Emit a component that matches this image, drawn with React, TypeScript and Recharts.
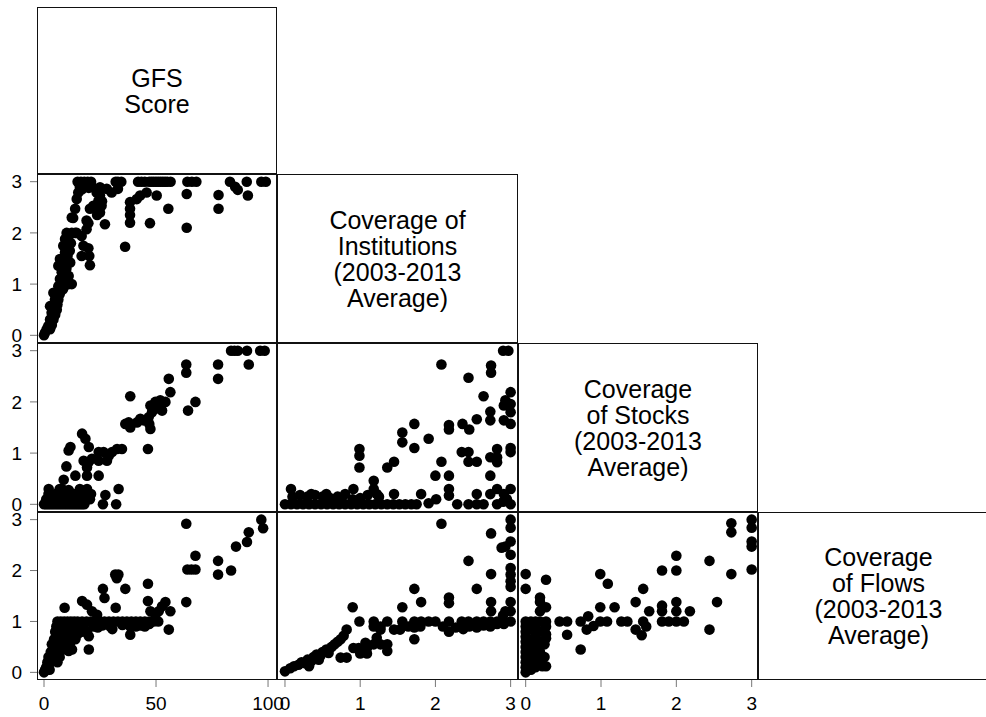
import React from 'react';
import { ScatterChart, Scatter, XAxis, YAxis } from 'recharts';

const FONT = '"Liberation Sans", Arial, Helvetica, sans-serif';

// Diagonal labels (variables)
const variableLabels: string[][] = [
  ['GFS', 'Score'],
  ['Coverage of', 'Institutions', '(2003-2013', 'Average)'],
  ['Coverage', 'of Stocks', '(2003-2013', 'Average)'],
  ['Coverage', 'of Flows', '(2003-2013', 'Average)'],
];

// Tick labels
const gfsTicks = [0, 50, 100];
const coverageTicks = [0, 1, 2, 3];

// Row 2, col 1: GFS score (x) vs Coverage of Institutions (y)
const gfsVsInstitutions: [number, number][] = [
  [15, 3], [16.5, 3], [18, 3], [19.5, 3], [21, 3], [32, 3], [33, 3], [34.5, 3], [42, 3], [43.5, 3], [45, 3], [47, 3],
  [48, 3], [49, 3], [50, 3], [51, 3], [52, 3], [53, 3], [54, 3], [55, 3], [56.5, 3], [64, 3], [66, 3], [68, 3],
  [83, 3], [90.5, 3], [97, 3], [99, 3],
  [16, 2.9], [17, 2.85], [18.5, 2.9], [20, 2.88], [21, 2.92], [15.3, 2.79], [14.6, 2.66], [13.9, 2.47], [12.4, 2.3],
  [23.5, 2.79], [25, 2.89], [28, 2.86], [30.2, 2.79], [33, 2.86], [41.4, 2.66], [42.9, 2.73], [45.8, 2.79],
  [50.3, 2.73], [63.7, 2.76], [77.9, 2.74], [85.3, 2.9], [86.5, 2.84], [91, 2.73], [25, 2.73], [24.3, 2.63],
  [25.7, 2.53], [20.5, 2.47], [22, 2.53], [25, 2.4], [23.7, 2.35], [25.9, 2.62], [27.2, 2.17], [38.4, 2.6],
  [38.4, 2.47], [38.4, 2.35], [38.4, 2.2], [36.2, 1.73], [47.3, 2.19], [55.5, 2.47], [63.7, 2.1], [77.9, 2.47],
  [19, 2.24], [19.8, 2.19], [19, 2.07], [16.8, 1.94], [17.6, 1.75], [16.8, 1.55], [19.8, 1.7], [20.2, 1.55],
  [20.5, 1.37], [14.6, 2.0], [13.9, 2.0], [12.4, 2.0], [10.9, 1.93], [13, 2.29],
  [10.1, 1.75], [9.4, 1.62], [8.6, 1.49], [8.3, 1.36], [7.9, 1.23], [7.1, 1.1], [6.4, 0.96], [5.7, 0.83],
  [4.9, 0.7], [4.2, 0.57], [3.4, 0.44], [2.7, 0.31], [1.9, 0.18], [1.2, 0.12], [0.4, 0.05], [0, 0],
  [12.4, 1.0], [11, 1.16], [11.7, 1.42], [7.9, 0.97], [6.4, 0.7], [5.7, 0.5], [4.2, 0.31], [2.7, 0.12],
  [4.2, 0.83], [2.7, 0.57], [6.4, 1.36], [7.1, 1.49], [8.6, 1.75], [9.4, 1.88], [10.1, 2.0], [9, 1.2],
  [10, 1.3], [9.5, 1.05], [11, 1.0], [8, 1.05], [5, 0.4], [3.5, 0.2], [6, 0.6], [7, 0.8], [8.5, 0.9],
  [10.5, 1.55], [11.5, 1.65], [12, 1.8],
];

// Row 3, col 1: GFS score (x) vs Coverage of Stocks (y)
const gfsVsStocks: [number, number][] = [
  [83.5, 3], [85, 3], [86.5, 3], [90.6, 3], [96.5, 3], [98.5, 3],
  [63.5, 2.73], [77.7, 2.73], [91.4, 2.73], [63.5, 2.57], [55.7, 2.45], [77.7, 2.45], [56.4, 2.19], [38.5, 2.11],
  [67.6, 2.0], [64.3, 1.83],
  [47.5, 1.93], [49.7, 2.0], [51.9, 2.03], [54.2, 2.0], [51.2, 1.87], [48.2, 1.8], [46.7, 1.7], [52.7, 1.83],
  [36.3, 1.57], [38.5, 1.5], [37.8, 1.6], [41.5, 1.6], [43, 1.67], [44.5, 1.64], [47.5, 1.47], [47, 1.57],
  [46.4, 1.08],
  [17, 1.38], [18.5, 1.28], [20, 1.12], [11.8, 1.12], [11, 1.05],
  [24.4, 1.02], [26.6, 1.02], [28.9, 0.95], [30.4, 1.02], [32.6, 1.08], [34.8, 1.08],
  [17.7, 0.85], [19.9, 0.82], [21.4, 0.89], [19.2, 0.72], [24.4, 0.85], [28.1, 0.85], [10, 0.74],
  [14, 0.56], [19.2, 0.56], [24.4, 0.56], [8.8, 0.48],
  [2.1, 0.3], [8, 0.3], [19.2, 0.3], [27.4, 0.18], [33.3, 0.3], [26.3, 0], [32.2, 0],
  [0, 0], [1, 0], [2, 0], [3, 0], [4, 0], [5, 0], [6, 0], [7, 0], [8, 0], [9, 0], [10, 0], [11, 0], [12, 0],
  [13, 0], [14, 0], [15, 0], [16, 0], [17, 0], [18, 0],
  [1, 0.1], [3, 0.1], [5, 0.1], [7, 0.12], [9, 0.1], [11, 0.1], [13, 0.12], [15, 0.1], [17, 0.1], [19, 0.15], [20.5, 0.1],
  [2, 0.2], [4, 0.18], [6, 0.22], [8, 0.2], [10, 0.2], [12, 0.22], [14, 0.2], [16, 0.18], [18, 0.25], [21, 0.2],
  [7, 0.3], [11, 0.28], [16, 0.3],
];

// Row 4, col 1: GFS score (x) vs Coverage of Flows (y)
const gfsVsFlows: [number, number][] = [
  [97, 3.0], [97.8, 2.83], [91.4, 2.75], [90.6, 2.56], [85.7, 2.47], [63.5, 2.92], [67.6, 2.29], [64, 2.02],
  [67.6, 2.02], [65.8, 2.02], [77.7, 2.19], [77.7, 1.92], [83.5, 2.0], [63.5, 1.38],
  [31.8, 1.92], [33.2, 1.92], [32.5, 1.85], [46.4, 1.74], [26.3, 1.64], [27, 1.46], [36.3, 1.64], [32, 1.27],
  [46.4, 1.4], [54.2, 1.38], [52.7, 1.3], [51.2, 1.2], [49.7, 1.13], [56.4, 1.2], [47.5, 1.2], [55.7, 0.84],
  [9.2, 1.27], [17, 1.4], [19.2, 1.33], [21.4, 1.2], [23.7, 1.13], [20, 0.45],
  [6, 1], [7.5, 1], [9, 1], [10.5, 1], [12, 1], [13.5, 1], [15, 1], [17, 1], [19, 1], [21, 1], [23, 1], [25, 1],
  [27, 1], [29, 1], [31, 1], [33, 1], [35, 1], [37, 1], [39, 1], [41, 1], [43, 1], [45, 1], [47, 1], [49, 1], [51, 1],
  [22.2, 0.9], [24, 0.88], [29.6, 0.9], [38.5, 0.9], [38.5, 0.74], [41, 0.9], [43, 0.92], [45, 0.9], [47, 0.95],
  [19.2, 0.8], [20, 0.71], [26, 0.92], [35, 0.93], [30.5, 0.85],
  [0, 0], [0.5, 0.05], [1, 0.1], [1.5, 0.2], [2, 0.15], [2, 0.3], [2.5, 0.25], [3, 0.4], [3, 0.2], [3.5, 0.35],
  [3.5, 0.55], [4, 0.5], [4, 0.3], [4.5, 0.65], [4.5, 0.45], [5, 0.8], [5, 0.6], [5, 0.4], [5.5, 0.9], [5.5, 0.7],
  [6, 0.55], [6, 0.75], [6.5, 0.85], [6.5, 0.5], [7, 0.65], [7, 0.9], [7.5, 0.55], [8, 0.8], [8, 0.7], [8.5, 0.45],
  [9, 0.6], [9, 0.85], [9.5, 0.75], [10, 0.5], [10, 0.9], [10.5, 0.65], [11, 0.8], [11.5, 0.55], [12, 0.7],
  [12, 0.9], [13, 0.8], [14, 0.65], [14, 0.85], [15, 0.75], [16, 0.9], [17, 0.8], [18, 0.85], [12.5, 0.45],
  [11, 0.42], [7, 0.3], [2.5, 0.05], [1.5, 0.05], [6, 0.2],
];

// Row 3, col 2: Coverage of Institutions (x) vs Coverage of Stocks (y)
const institutionsVsStocks: [number, number][] = [
  [2.9, 3], [2.97, 3],
  [2.08, 2.73], [2.74, 2.71], [2.74, 2.57], [2.44, 2.47], [2.64, 2.11], [3, 2.19], [2.93, 2.03], [3, 1.96],
  [2.91, 1.93], [3, 1.8], [2.91, 1.64], [3, 1.57], [2.73, 1.81], [2.73, 1.64], [2.55, 1.66], [2.36, 1.57],
  [2.45, 1.46], [2.18, 1.55], [2.18, 1.46], [1.72, 1.57], [1.56, 1.4], [1.56, 1.21], [1.72, 1.1], [1.91, 1.28],
  [0.99, 1.08], [0.99, 0.95], [0.99, 0.72], [1.36, 0.72], [1.45, 0.83], [1.18, 0.46], [1.18, 0.3], [2.08, 0.83],
  [2.0, 0.56], [2.18, 0.56], [2.18, 0.3], [2.18, 0.17], [2.35, 1.02], [2.44, 1.02], [2.44, 0.83], [2.55, 0.83],
  [2.82, 1.08], [2.82, 0.92], [2.73, 0.92], [2.82, 0.82], [3, 1.1], [3, 1.02], [2.73, 0.56], [2.82, 0.3],
  [2.73, 0.2], [2.91, 0.2], [3, 0.3], [2.95, 0.1], [2.55, 0.2], [0.08, 0.3], [1.45, 0.2], [1.81, 0.2], [0.91, 0.3],
  [1.22, 0.2], [1.25, 0.15],
  [0, 0], [0.08, 0], [0.16, 0], [0.24, 0], [0.32, 0], [0.4, 0], [0.48, 0], [0.56, 0], [0.64, 0], [0.72, 0],
  [0.8, 0], [0.88, 0], [0.96, 0], [1.04, 0], [1.12, 0], [1.2, 0], [1.28, 0], [1.36, 0], [1.44, 0], [1.52, 0],
  [1.6, 0], [1.68, 0], [1.75, 0], [1.91, 0.02], [2.01, 0.1], [2.29, 0], [2.44, 0], [2.55, 0], [2.64, 0],
  [2.82, 0], [3.0, 0], [2.9, 0.05],
  [0.1, 0.15], [0.2, 0.18], [0.3, 0.15], [0.4, 0.18], [0.5, 0.15], [0.6, 0.12], [0.7, 0.15], [0.8, 0.2],
  [0.9, 0.1], [1.0, 0.12], [1.1, 0.18], [0.35, 0.2], [0.55, 0.2], [0.75, 0.1],
];

// Row 4, col 2: Coverage of Institutions (x) vs Coverage of Flows (y)
const institutionsVsFlows: [number, number][] = [
  [2.08, 2.92], [2.74, 2.73], [3, 3.0], [3, 2.84], [3, 2.57], [2.93, 2.47], [2.88, 2.45], [3, 2.31], [2.44, 2.19],
  [2.74, 1.93], [3, 2.05], [3, 1.92], [3, 1.79], [3, 1.68], [2.55, 1.64], [1.72, 1.64], [1.81, 1.38],
  [2.18, 1.47], [2.18, 1.36], [2.74, 1.38], [2.74, 1.2], [3, 1.38], [3, 1.2], [2.93, 1.2], [2.9, 1.12],
  [0.9, 1.28], [1.56, 1.28],
  [0.99, 1], [1.18, 1], [1.36, 1], [1.56, 1], [1.72, 1], [1.81, 1], [1.91, 1], [2.0, 1], [2.18, 1], [2.35, 1],
  [2.44, 1], [2.55, 1], [2.64, 1], [2.73, 1], [2.82, 1], [2.91, 1], [3.0, 1],
  [1.27, 0.9], [1.45, 0.84], [1.53, 0.84], [1.64, 0.9], [1.72, 0.88], [1.8, 0.9], [2.1, 0.9], [2.18, 0.8],
  [2.27, 0.88], [2.37, 0.85], [2.45, 0.9], [2.55, 0.88], [2.64, 0.92], [2.73, 0.9], [2.82, 0.95], [2.91, 0.95],
  [1.18, 0.9], [1.27, 0.84], [1.72, 0.65], [1.22, 0.68],
  [0, 0.02], [0.07, 0.08], [0.12, 0.12], [0.18, 0.15], [0.22, 0.2], [0.27, 0.18], [0.3, 0.25], [0.35, 0.22],
  [0.38, 0.3], [0.42, 0.35], [0.47, 0.32], [0.5, 0.4], [0.55, 0.45], [0.58, 0.38], [0.62, 0.5], [0.66, 0.55],
  [0.7, 0.6], [0.74, 0.65], [0.78, 0.72], [0.82, 0.84], [0.45, 0.25], [0.32, 0.12],
  [0.74, 0.29], [0.82, 0.29], [0.91, 0.48], [1.0, 0.37], [1.09, 0.37], [1.09, 0.48], [1.18, 0.55], [1.27, 0.55],
  [1.36, 0.55], [1.36, 0.42], [0.98, 0.48], [1.07, 0.58],
];

// Row 4, col 3: Coverage of Stocks (x) vs Coverage of Flows (y)
const stocksVsFlows: [number, number][] = [
  [0, 1.93], [0, 1.64], [0.27, 1.82], [0.19, 1.47], [0.19, 1.38], [0.27, 1.28], [0.19, 1.2], [0.27, 0.12],
  [0.27, 0.67], [0.45, 1.0], [0.55, 1.0], [0.55, 0.74], [0.73, 1.0], [0.83, 1.1], [0.81, 0.84], [0.9, 0.91],
  [0.99, 1.0], [1.08, 1.0], [0.73, 0.45], [0.99, 1.93], [1.09, 1.74], [0.99, 1.28], [1.18, 1.28], [1.27, 1.0],
  [1.35, 1.0], [1.46, 1.38], [1.56, 1.64], [1.46, 0.84], [1.54, 0.73], [1.56, 1.0], [1.64, 1.2], [1.6, 0.9],
  [1.81, 2.0], [2.0, 2.29], [2.0, 2.0], [1.81, 1.31], [1.81, 1.2], [1.81, 1.0], [1.9, 1.0], [2.0, 1.38],
  [2.0, 1.2], [2.0, 1.0], [2.1, 1.0], [2.18, 1.2], [2.44, 2.19], [2.54, 1.38], [2.44, 0.84], [2.73, 2.93],
  [2.73, 2.75], [2.73, 1.93], [3.0, 3.0], [3.0, 2.84], [3.0, 2.57], [3.0, 2.47], [3.0, 2.02],
  [0, 0], [0, 0.1], [0, 0.2], [0, 0.3], [0, 0.4], [0, 0.5], [0, 0.6], [0, 0.7], [0, 0.8], [0, 0.9], [0, 1.0],
  [0.07, 0.05], [0.07, 0.15], [0.07, 0.25], [0.07, 0.35], [0.07, 0.45], [0.07, 0.55], [0.07, 0.65],
  [0.07, 0.85], [0.07, 0.95], [0.07, 1.0], [0.13, 0.1], [0.13, 0.3], [0.13, 0.5], [0.13, 0.7], [0.13, 0.9],
  [0.13, 1.0], [0.19, 0.2], [0.19, 0.4], [0.19, 0.6], [0.19, 0.8], [0.19, 1.0], [0.25, 0.3], [0.25, 0.55],
  [0.27, 0.75], [0.27, 0.9], [0.27, 1.0], [0.22, 0.12],
];

const colX = [37, 277, 518, 758, 999];
const rowY = [7, 174, 343, 512, 680];
const xDomains: [number, number][] = [[-3.125, 104], [-0.106, 3.098], [-0.102, 3.084]];
const yDomain: [number, number] = [-0.15, 3.15];
const xTickSets = [gfsTicks, coverageTicks, coverageTicks];

const toPoints = (arr: [number, number][]) => arr.map(([x, y]) => ({ x, y }));

const panels = [
  { r: 1, c: 0, data: gfsVsInstitutions },
  { r: 2, c: 0, data: gfsVsStocks },
  { r: 3, c: 0, data: gfsVsFlows },
  { r: 2, c: 1, data: institutionsVsStocks },
  { r: 3, c: 1, data: institutionsVsFlows },
  { r: 3, c: 2, data: stocksVsFlows },
];

const tickStyle = { fill: '#000', fontSize: 19, fontFamily: FONT };
const PAD = 12;

const Dot = (props: any) => {
  const { cx, cy } = props;
  if (cx == null || cy == null) return <g />;
  return <circle cx={cx} cy={cy} r={5.3} fill="#000" />;
};

function Panel({ r, c, data }: { r: number; c: number; data: [number, number][] }) {
  const showY = c === 0;
  const showX = r === 3;
  const yAxisW = showY ? colX[0] : 0;
  const plotW = colX[c + 1] - colX[c];
  const plotH = rowY[r + 1] - rowY[r];
  const rightMargin = showX && c === 0 ? 20 : 0;
  const xAxisH = showX ? 37 : 0;
  const left = showY ? 0 : colX[c];
  return (
    <div style={{ position: 'absolute', left, top: rowY[r] - PAD }}>
      <ScatterChart
        width={yAxisW + plotW + rightMargin}
        height={plotH + xAxisH + PAD * 2}
        margin={{ top: PAD, right: rightMargin, bottom: PAD, left: 0 }}
      >
        <XAxis
          type="number"
          dataKey="x"
          domain={xDomains[c]}
          allowDataOverflow
          hide={!showX}
          height={xAxisH}
          ticks={xTickSets[c]}
          interval={0}
          tickSize={7}
          tickMargin={10}
          axisLine={false}
          tickLine={{ stroke: '#777' }}
          tick={tickStyle}
        />
        <YAxis
          type="number"
          dataKey="y"
          domain={yDomain}
          allowDataOverflow
          hide={!showY}
          width={yAxisW}
          ticks={coverageTicks}
          interval={0}
          tickSize={7}
          tickMargin={8}
          axisLine={false}
          tickLine={{ stroke: '#777' }}
          tick={tickStyle}
        />
        <Scatter data={toPoints(data)} fill="#000" shape={Dot} isAnimationActive={false} />
      </ScatterChart>
    </div>
  );
}

const frameCells: [number, number][] = [
  [0, 0], [1, 0], [1, 1], [2, 0], [2, 1], [2, 2], [3, 0], [3, 1], [3, 2], [3, 3],
];

export default function App() {
  return (
    <div style={{ position: 'absolute', left: 0, top: 0, width: 986, height: 717, background: '#fff', overflow: 'hidden', fontFamily: FONT }}>
      {panels.map((p) => (
        <Panel key={`${p.r}-${p.c}`} r={p.r} c={p.c} data={p.data} />
      ))}
      {variableLabels.map((lines, i) => (
        <div
          key={i}
          style={{
            position: 'absolute',
            left: colX[i],
            top: rowY[i],
            width: colX[i + 1] - colX[i],
            height: rowY[i + 1] - rowY[i],
            display: 'flex',
            alignItems: 'center',
            justifyContent: 'center',
            textAlign: 'center',
            fontSize: 25,
            lineHeight: '26px',
            color: '#000',
          }}
        >
          <div>
            {lines.map((l, j) => (
              <div key={j}>{l}</div>
            ))}
          </div>
        </div>
      ))}
      <svg width={986} height={717} style={{ position: 'absolute', left: 0, top: 0, pointerEvents: 'none' }}>
        {frameCells.map(([r, c]) => (
          <rect
            key={`${r}-${c}`}
            x={colX[c] + 0.5}
            y={rowY[r] + 0.5}
            width={colX[c + 1] - colX[c] - 1}
            height={rowY[r + 1] - rowY[r] - 1}
            fill="none"
            stroke="#111"
            strokeWidth={1}
          />
        ))}
      </svg>
    </div>
  );
}
